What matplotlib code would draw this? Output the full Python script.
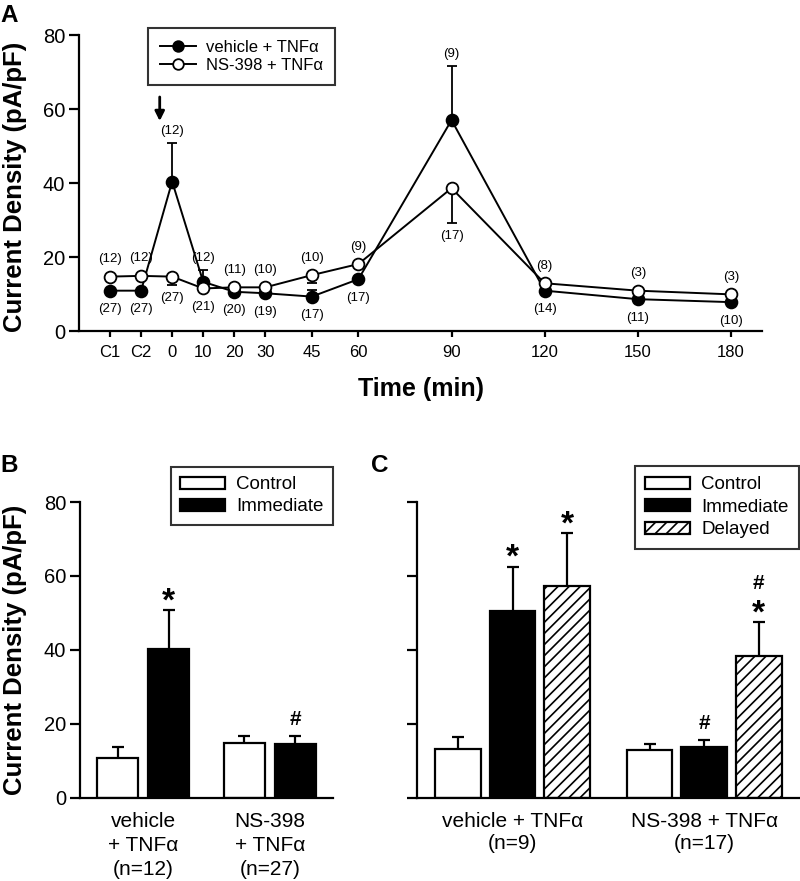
import matplotlib
matplotlib.use('Agg')
import matplotlib.pyplot as plt
import numpy as np

plt.rcParams['font.family'] = ['Liberation Sans', 'DejaVu Sans']
plt.rcParams['hatch.linewidth'] = 1.2
plt.rcParams['axes.linewidth'] = 1.6

# ---------------- Panel A data ----------------
time_pos = [-20, -10, 0, 10, 20, 30, 45, 60, 90, 120, 150, 180]
time_labels = ['C1', 'C2', '0', '10', '20', '30', '45', '60', '90', '120', '150', '180']
veh_mean = [10.9, 10.9, 40.4, 13.3, 10.6, 10.2, 9.3, 14.0, 57.0, 10.9, 8.6, 7.8]
veh_sem = [0.5, 0.5, 10.3, 3.2, 0.5, 0.5, 1.8, 0.5, 14.6, 0.5, 0.5, 0.5]
ns_mean = [14.7, 14.9, 14.7, 11.5, 11.8, 11.8, 15.1, 18.1, 38.6, 12.9, 10.9, 9.9]
ns_sem = [0.5, 0.5, 2.3, 0.5, 0.5, 0.5, 2.2, 0.5, 9.3, 0.5, 0.5, 0.5]
n_top = ['(12)', '(12)', '(12)', '(12)', '(11)', '(10)', '(10)', '(9)', '(9)', '(8)', '(3)', '(3)']
n_bottom = ['(27)', '(27)', '(27)', '(21)', '(20)', '(19)', '(17)', '(17)', '(17)', '(14)', '(11)', '(10)']

# ---------------- Panel B data ----------------
b_groups = ['vehicle\n+ TNF\u03b1\n(n=12)', 'NS-398\n+ TNF\u03b1\n(n=27)']
b_control = [10.8, 14.7]
b_control_sem = [2.9, 2.0]
b_immediate = [40.3, 14.6]
b_immediate_sem = [10.4, 2.1]
b_marks = [('*', 1, 0), ('#', 1, 1)]   # (symbol, series, group)

# ---------------- Panel C data ----------------
c_groups = ['vehicle + TNF\u03b1\n(n=9)', 'NS-398 + TNF\u03b1\n(n=17)']
c_control = [13.2, 12.9]
c_control_sem = [3.3, 1.6]
c_immediate = [50.6, 13.8]
c_immediate_sem = [11.8, 1.8]
c_delayed = [57.2, 38.4]
c_delayed_sem = [14.3, 9.1]
c_marks = [('*', 1, 0), ('*', 2, 0), ('#', 1, 1), ('*', 2, 1), ('#', 2, 1)]

fig = plt.figure(figsize=(8, 8.81), dpi=100)

def style_axis(ax):
    ax.spines['top'].set_visible(False)
    ax.spines['right'].set_visible(False)
    ax.tick_params(axis='y', direction='out', length=7, width=1.6, labelsize=14.5, pad=3)

def one_sided_err(ax, x, y, e, sign, capsize, lw):
    # error bar drawn only on one side of the point, cap only at the far end
    x = np.asarray(x, float)
    y = np.asarray(y, float)
    end = y + sign * np.asarray(e, float)
    ax.vlines(x, y, end, colors='k', lw=lw, zorder=1)
    ax.plot(x, end, ls='none', marker='_', ms=capsize, mew=lw, color='k', zorder=1)

def add_mark(ax, sym, x, y, nth):
    # nth = 0 first symbol above error bar, 1 second symbol stacked above
    if sym == '*':
        off = 0 + nth * 16
        ax.annotate('*', xy=(x, y), xytext=(0, off), textcoords='offset points',
                    ha='center', va='baseline', fontsize=24, fontweight='bold')
    else:
        off = 8 + nth * 16
        ax.annotate('#', xy=(x, y), xytext=(0, off), textcoords='offset points',
                    ha='center', va='baseline', fontsize=15, fontweight='bold')

def style_legend(leg):
    leg.get_frame().set_edgecolor('k')
    leg.get_frame().set_linewidth(1.5)

# ================= Panel A =================
axA = fig.add_axes([79/800, 1-331/881, 683/800, 296/881])
style_axis(axA)
x = np.array(time_pos)
veh = np.array(veh_mean)
ns = np.array(ns_mean)
vs = np.array(veh_sem)
nsem = np.array(ns_sem)

one_sided_err(axA, x, veh, vs, +1, 6.5, 1.3)
one_sided_err(axA, x, ns, nsem, -1, 6.5, 1.3)
axA.plot(x, veh, '-o', color='k', lw=1.4, ms=8.5, mfc='k', mec='k', mew=1.3,
         label='vehicle + TNF\u03b1', zorder=3)
axA.plot(x, ns, '-o', color='k', lw=1.4, ms=8.5, mfc='white', mec='k', mew=1.3,
         label='NS-398 + TNF\u03b1', zorder=4)

hi = np.maximum(veh, ns)
lo = np.minimum(veh, ns)
top_y = np.maximum(hi + 4.7, veh + vs + 3.3)
bot_y = np.minimum(lo - 5.0, ns - nsem - 3.5)
for xi, t, ty, b, by in zip(x, n_top, top_y, n_bottom, bot_y):
    axA.text(xi, ty, t, ha='center', va='center', fontsize=9.5)
    axA.text(xi, by, b, ha='center', va='center', fontsize=9.5)

axA.annotate('', xy=(-4, 56), xytext=(-4, 64),
             arrowprops=dict(arrowstyle='-|>', lw=2.0, color='k', mutation_scale=14))

axA.set_xlim(-30, 190)
axA.set_ylim(0, 80)
axA.set_yticks([0, 20, 40, 60, 80])
axA.set_xticks(time_pos)
axA.set_xticklabels(time_labels, fontsize=12)
axA.tick_params(axis='x', direction='out', length=4, width=1.6, pad=6)
axA.set_xlabel('Time (min)', fontsize=18, fontweight='bold')
axA.xaxis.set_label_coords(0.5, -0.155)
axA.set_ylabel('Current Density (pA/pF)', fontsize=18.5, fontweight='bold')
axA.yaxis.set_label_coords(-0.076, 0.488)
legA = axA.legend(loc='upper left', bbox_to_anchor=(0.101, 1.024), borderaxespad=0,
                  fontsize=12, frameon=True, fancybox=False, handlelength=2.2,
                  labelspacing=0.2, borderpad=0.7, handletextpad=0.6, markerscale=0.9)
style_legend(legA)

# ================= Panel B =================
axB = fig.add_axes([80/800, 1-797.7/881, 253/800, 295.7/881])
style_axis(axB)
gx = np.arange(len(b_groups))
bw = 0.324
offB = [-0.2025, 0.2025]
b_series = [(b_control, b_control_sem, 'white', 'Control'),
            (b_immediate, b_immediate_sem, 'black', 'Immediate')]
for (vals, sems, fc, lab), o in zip(b_series, offB):
    axB.bar(gx + o, vals, bw, color=fc, edgecolor='k', lw=1.6, label=lab, zorder=2)
    one_sided_err(axB, gx + o, vals, sems, +1, 8, 1.6)
counts = {}
for sym, s, g in b_marks:
    vals, sems = b_series[s][0], b_series[s][1]
    k = (s, g)
    nth = counts.get(k, 0)
    counts[k] = nth + 1
    add_mark(axB, sym, g + offB[s], vals[g] + sems[g], nth)
axB.set_xlim(-0.5, 1.5)
axB.set_ylim(0, 80)
axB.set_yticks([0, 20, 40, 60, 80])
axB.set_xticks(gx)
axB.set_xticklabels(b_groups, fontsize=15, linespacing=1.35)
axB.tick_params(axis='x', length=0, pad=10)
axB.set_ylabel('Current Density (pA/pF)', fontsize=18.5, fontweight='bold')
axB.yaxis.set_label_coords(-0.209, 0.5)
legB = axB.legend(loc='upper right', bbox_to_anchor=(1.0, 1.118), borderaxespad=0,
                  fontsize=13.5, frameon=True, fancybox=False, handlelength=2.4,
                  handleheight=0.6, labelspacing=0.25, borderpad=0.5, handletextpad=0.6)
style_legend(legB)

# ================= Panel C =================
axC = fig.add_axes([416.7/800, 1-797.7/881, 383.3/800, 295.7/881])
style_axis(axC)
gx = np.arange(len(c_groups))
bw = 0.237
offC = [-0.285, 0.0, 0.285]
c_series = [(c_control, c_control_sem, 'white', None, 'Control'),
            (c_immediate, c_immediate_sem, 'black', None, 'Immediate'),
            (c_delayed, c_delayed_sem, 'white', '///', 'Delayed')]
for (vals, sems, fc, hatch, lab), o in zip(c_series, offC):
    axC.bar(gx + o, vals, bw, color=fc, edgecolor='k', lw=1.6, hatch=hatch,
            label=lab, zorder=2)
    one_sided_err(axC, gx + o, vals, sems, +1, 8, 1.6)
counts = {}
for sym, s, g in c_marks:
    vals, sems = c_series[s][0], c_series[s][1]
    k = (s, g)
    nth = counts.get(k, 0)
    counts[k] = nth + 1
    add_mark(axC, sym, g + offC[s], vals[g] + sems[g], nth)
axC.set_xlim(-0.5, 1.5)
axC.set_ylim(0, 80)
axC.set_yticks([0, 20, 40, 60, 80])
axC.set_yticklabels([])
axC.set_xticks(gx)
axC.set_xticklabels(c_groups, fontsize=15, linespacing=1.2)
axC.tick_params(axis='x', length=0, pad=10)
legC = axC.legend(loc='upper right', bbox_to_anchor=(0.997, 1.122), borderaxespad=0,
                  fontsize=13.5, frameon=True, fancybox=False, handlelength=2.4,
                  handleheight=0.6, labelspacing=0.3, borderpad=0.55, handletextpad=0.6)
style_legend(legC)

# panel letters
fig.text(0.0, 1 - 22/881, 'A', ha='left', va='baseline', fontsize=17.5, fontweight='bold')
fig.text(0.0, 1 - 472/881, 'B', ha='left', va='baseline', fontsize=17.5, fontweight='bold')
fig.text(371/800, 1 - 472/881, 'C', ha='left', va='baseline', fontsize=17.5, fontweight='bold')

fig.savefig('out.png', dpi=100)
